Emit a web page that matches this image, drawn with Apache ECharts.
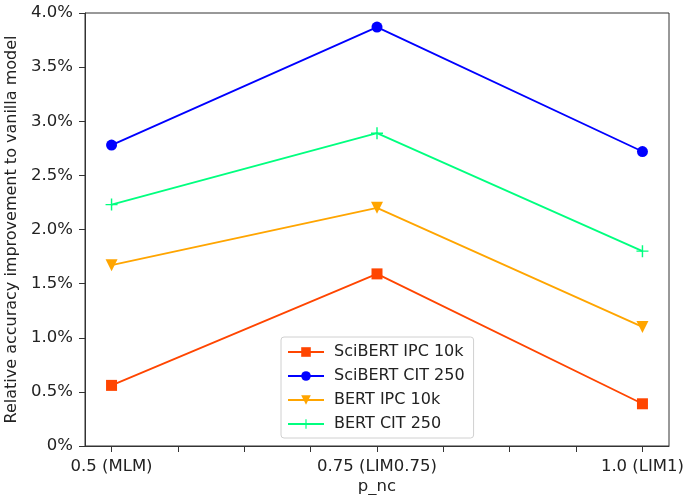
<!DOCTYPE html>
<html>
<head>
<meta charset="utf-8">
<script src="https://cdn.jsdelivr.net/npm/echarts@6/dist/echarts.min.js"></script>
<style>
  html, body { margin: 0; padding: 0; background: #fff; }
  #chart { width: 686px; height: 495px; }
</style>
</head>
<body>
<div id="chart"></div>
<script>
// x positions (p_nc) and their labels
const xValues = [0.5, 0.75, 1.0]
const xLabels = ['0.5 (MLM)', '0.75 (LIM0.75)', '1.0 (LIM1)']
const xTicks = [0.5, 0.5625, 0.625, 0.6875, 0.75, 0.8125, 0.875, 0.9375, 1.0]

// relative accuracy improvement in %
const sciIpc = [0.56, 1.59, 0.39]
const sciCit = [2.78, 3.87, 2.72]
const bertIpc = [1.67, 2.20, 1.10]
const bertCit = [2.23, 2.89, 1.80]

const plusPath = 'path://M44,0 H56 V44 H100 V56 H56 V100 H44 V56 H0 V44 H44 Z'

const chart = echarts.init(document.getElementById('chart'))

function pairs(ys) {
    return xValues.map((x, i) => [x, ys[i]])
}

function line(name, ys, color, symbol, size, rotate) {
    return {
        name: name,
        type: 'line',
        data: pairs(ys),
        symbol: symbol,
        symbolSize: size,
        symbolRotate: rotate || 0,
        showAllSymbol: true,
        lineStyle: { color: color, width: 1.8 },
        itemStyle: { color: color },
        emphasis: { disabled: true },
        z: 3
    }
}

chart.setOption({
    animation: false,
    textStyle: { fontFamily: 'DejaVu Sans' },
    grid: {
        left: 85,
        right: 17,
        top: 13,
        bottom: 49,
        outerBoundsMode: 'none',
        containLabel: false,
        show: true,
        borderColor: '#333',
        borderWidth: 1
    },
    legend: {
        left: 281,
        top: 337,
        orient: 'vertical',
        itemWidth: 36,
        itemHeight: 12,
        itemGap: 8,
        padding: [7, 9, 6, 6],
        borderColor: '#d0d0d0',
        borderWidth: 1,
        borderRadius: 3,
        textStyle: { fontSize: 16, color: '#222', padding: [0, 0, 0, 5] },
        data: ['SciBERT IPC 10k', 'SciBERT CIT 250', 'BERT IPC 10k', 'BERT CIT 250']
    },
    xAxis: {
        type: 'value',
        min: 0.475,
        max: 1.025,
        name: 'p_nc',
        nameLocation: 'middle',
        nameGap: 32,
        nameMoveOverlap: false,
        nameTextStyle: { fontSize: 16.5, color: '#222' },
        splitLine: { show: false },
        axisLine: { lineStyle: { color: '#333' } },
        axisTick: {
            show: true,
            length: 6,
            customValues: xTicks,
            lineStyle: { color: '#333' }
        },
        axisLabel: {
            fontSize: 16.5,
            color: '#222',
            margin: 12,
            customValues: xValues,
            formatter: function (v) {
                const i = xValues.findIndex(x => Math.abs(x - v) < 1e-6)
                return i >= 0 ? xLabels[i] : ''
            }
        }
    },
    yAxis: {
        type: 'value',
        min: 0,
        max: 4,
        interval: 0.5,
        name: 'Relative accuracy improvement to vanilla model',
        nameLocation: 'middle',
        nameGap: 58,
        nameTextStyle: { fontSize: 16, color: '#222' },
        splitLine: { show: false },
        axisLine: { show: true, lineStyle: { color: '#333' } },
        axisTick: { show: true, length: 6, lineStyle: { color: '#333' } },
        axisLabel: {
            fontSize: 16.5,
            color: '#222',
            margin: 12,
            formatter: function (v) {
                return v === 0 ? '0%' : v.toFixed(1) + '%'
            }
        }
    },
    series: [
        line('SciBERT IPC 10k', sciIpc, '#ff4500', 'rect', 11),
        line('SciBERT CIT 250', sciCit, '#0000ff', 'circle', 11),
        line('BERT IPC 10k', bertIpc, '#ffa500', 'triangle', 12, 180),
        line('BERT CIT 250', bertCit, '#00ff7f', plusPath, 12)
    ]
})

window.addEventListener('resize', () => {
    chart.resize()
})
</script>
</body>
</html>
